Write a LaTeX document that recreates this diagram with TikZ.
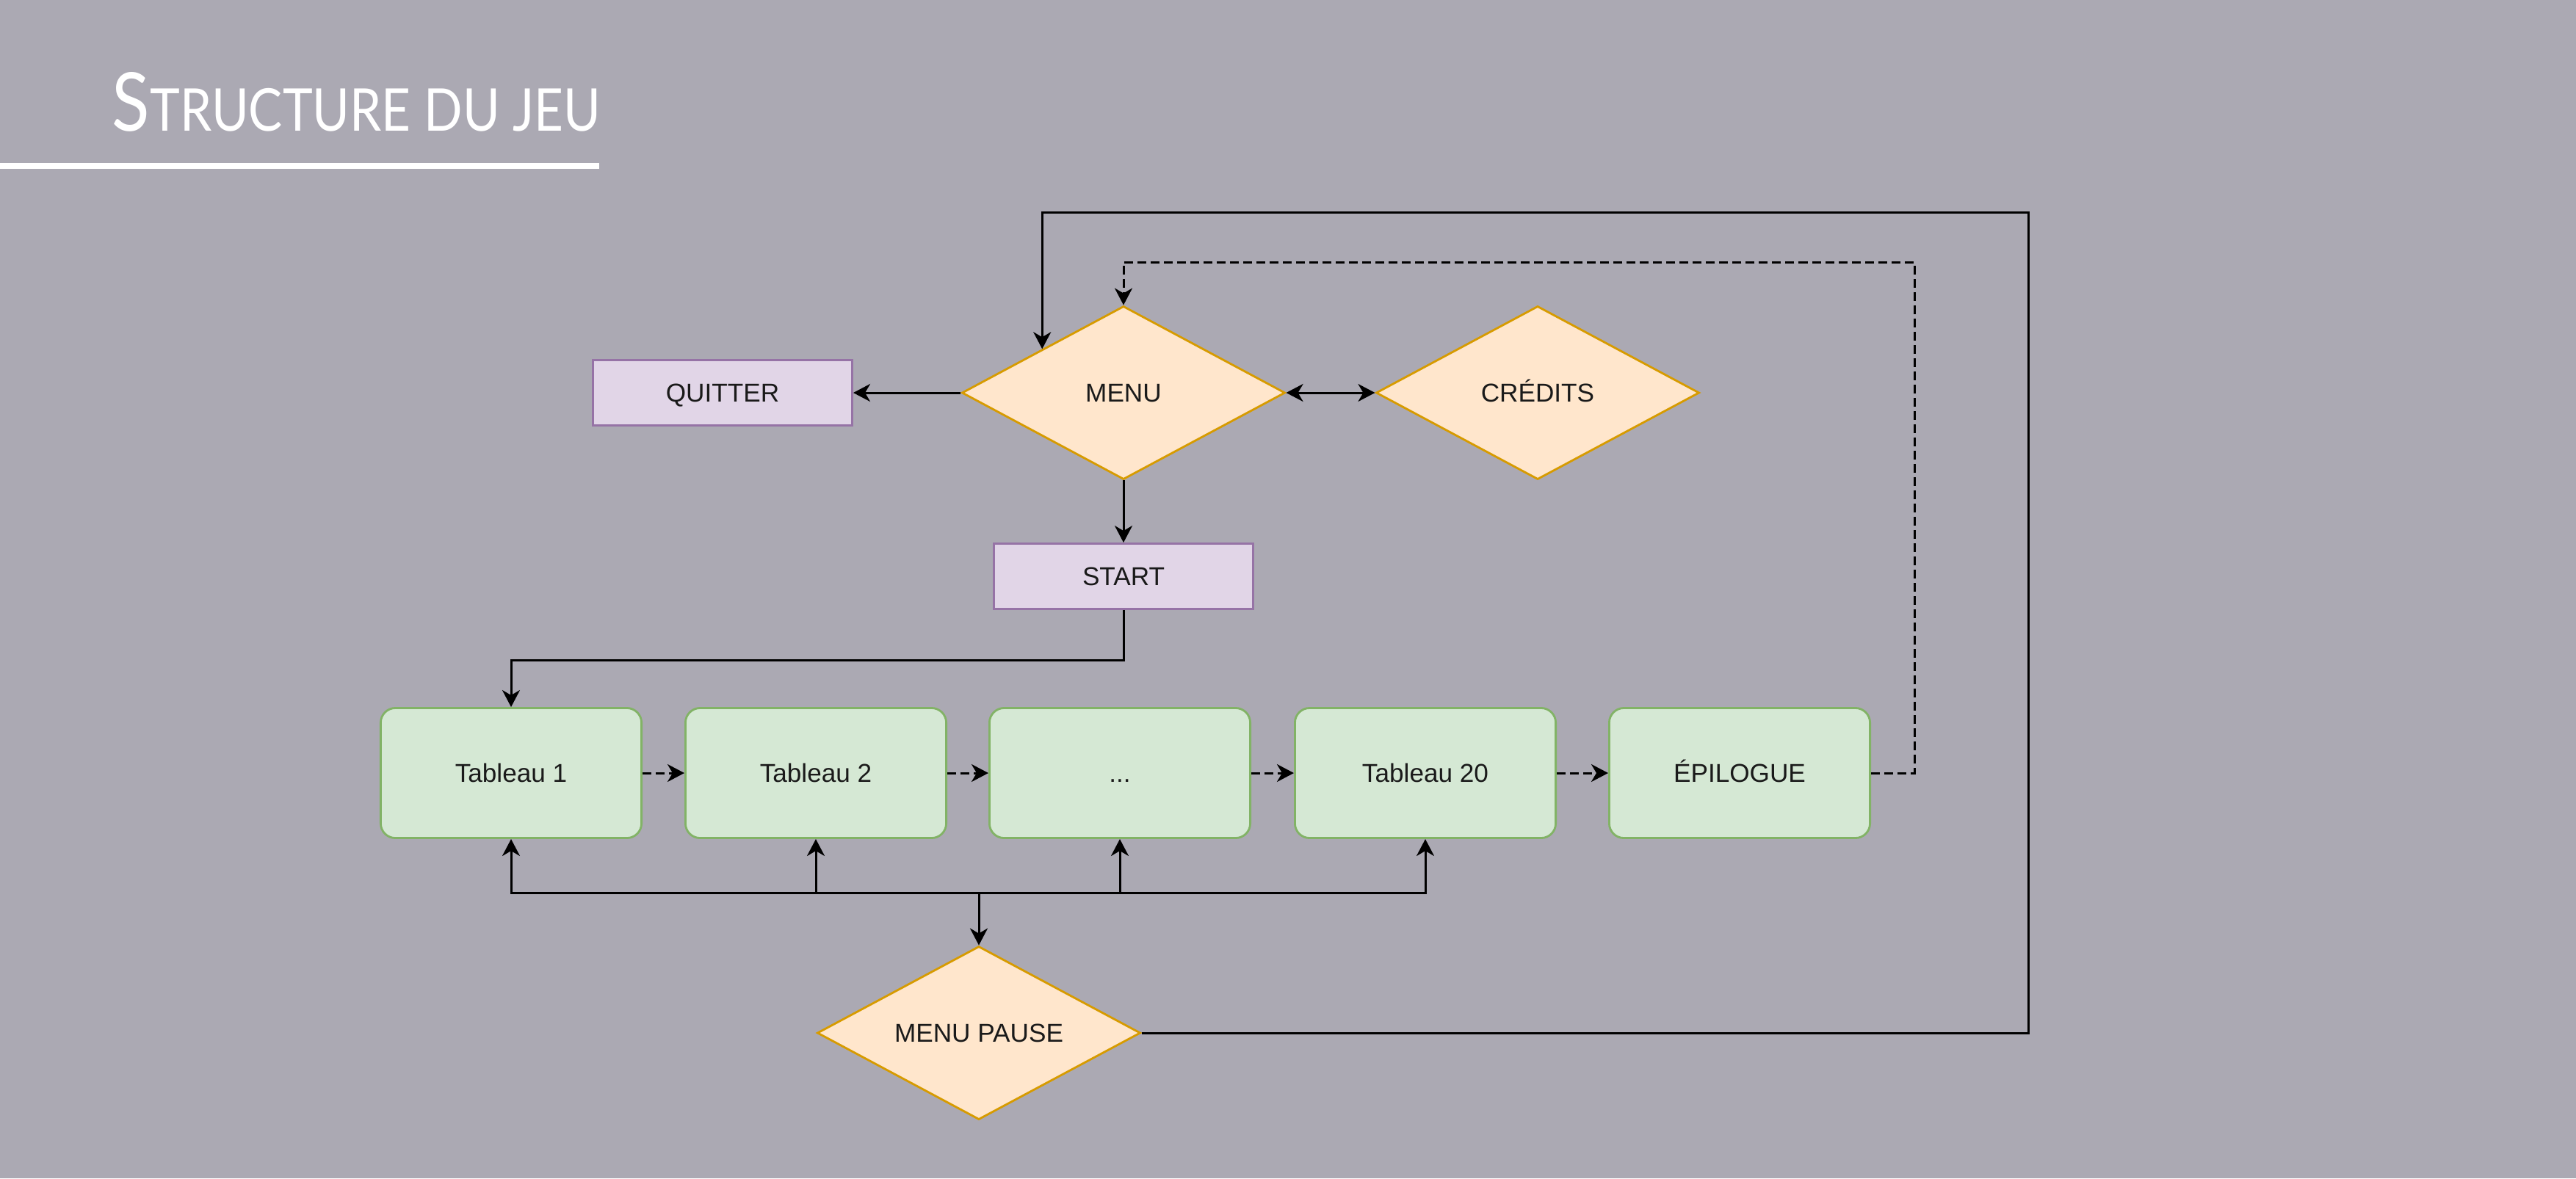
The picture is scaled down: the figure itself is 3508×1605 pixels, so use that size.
\documentclass[tikz,border=0pt]{standalone}
\usepackage{fontspec}
\setmainfont{Liberation Sans}
\newfontfamily\titlefont{Lato}
\usetikzlibrary{shapes.geometric,arrows.meta}
\definecolor{bg}{HTML}{ABA9B3}
\definecolor{purpfill}{HTML}{E1D5E7}
\definecolor{purpstroke}{HTML}{9673A6}
\definecolor{orfill}{HTML}{FFE6CC}
\definecolor{orstroke}{HTML}{D79B00}
\definecolor{grfill}{HTML}{D5E8D4}
\definecolor{grstroke}{HTML}{82B366}
\definecolor{txt}{HTML}{1A1A1A}
\begin{document}
\begin{tikzpicture}[x=0.01cm,y=-0.01cm,
  every node/.style={font=\fontsize{10pt}{12pt}\selectfont, text=txt},
  lbl/.style={text height=7.2pt, text depth=0pt},
  pbox/.style={lbl, draw=purpstroke, fill=purpfill, line width=0.8pt, minimum width=3.53cm, minimum height=0.89cm, inner sep=0pt},
  dia/.style={lbl, diamond, aspect=1.86, draw=orstroke, fill=orfill, line width=0.8pt, minimum width=4.4cm, minimum height=2.36cm, inner sep=0pt},
  tab/.style={lbl, draw=grstroke, fill=grfill, line width=0.8pt, rounded corners=2mm, minimum width=3.55cm, minimum height=1.77cm, inner sep=0pt},
  conn/.style={line width=0.85pt, draw=black, -{Stealth[length=2.3mm,width=2.4mm,inset=0.7mm]}},
  dconn/.style={conn, dash pattern=on 1.2mm off 0.6mm}]
\useasboundingbox (0,0) rectangle (3508,1605);
\fill[bg] (0,0) rectangle (3508,1605);
% title
\fill[white] (0,222) rectangle (816,230);
\node[anchor=base west, inner sep=0pt, text=white] (title) at (152,178)
  {\resizebox{6.65cm}{8mm}{\titlefont\fontsize{33pt}{36pt}\selectfont S\fontsize{24pt}{28pt}\selectfont TRUCTURE DU JEU}};
% nodes
\node[pbox] (quit) at (984,535) {QUITTER};
\node[dia] (menu) at (1530,535) {MENU};
\node[dia] (cred) at (2094,535) {CRÉDITS};
\node[pbox] (start) at (1530,785) {START};
\node[tab] (t1) at (696,1053) {Tableau 1};
\node[tab] (t2) at (1111,1053) {Tableau 2};
\node[tab] (td) at (1525,1053) {...};
\node[tab] (t20) at (1941,1053) {Tableau 20};
\node[tab] (epi) at (2369,1053) {ÉPILOGUE};
\node[dia] (pause) at (1333,1407) {MENU PAUSE};
% helper coordinates
\coordinate (j1) at (1530,899);
\coordinate (bus) at (1333,1216);
\coordinate (c1) at (2762,289);
\coordinate (c2) at (2607,357);
% connectors
\draw[conn] (menu.west) -- (quit.east);
\draw[conn, {Stealth[length=2.3mm,width=2.4mm,inset=0.7mm]}-{Stealth[length=2.3mm,width=2.4mm,inset=0.7mm]}] (menu.east) -- (cred.west);
\draw[conn] (menu.south) -- (start.north);
\draw[conn] (start.south) -- (j1) -| (t1.north);
\draw[dconn] (t1.east) -- (t2.west);
\draw[dconn] (t2.east) -- (td.west);
\draw[dconn] (td.east) -- (t20.west);
\draw[dconn] (t20.east) -- (epi.west);
\draw[dconn] (epi.east) -| (c2) -| (menu.north);
\draw[conn] (bus) -| (t1.south);
\draw[conn] (bus) -| (t2.south);
\draw[conn] (bus) -| (td.south);
\draw[conn] (bus) -| (t20.south);
\draw[conn] (bus) -- (pause.north);
\draw[conn] (pause.east) -| (c1) -| (menu.north west);
\end{tikzpicture}
\end{document}
